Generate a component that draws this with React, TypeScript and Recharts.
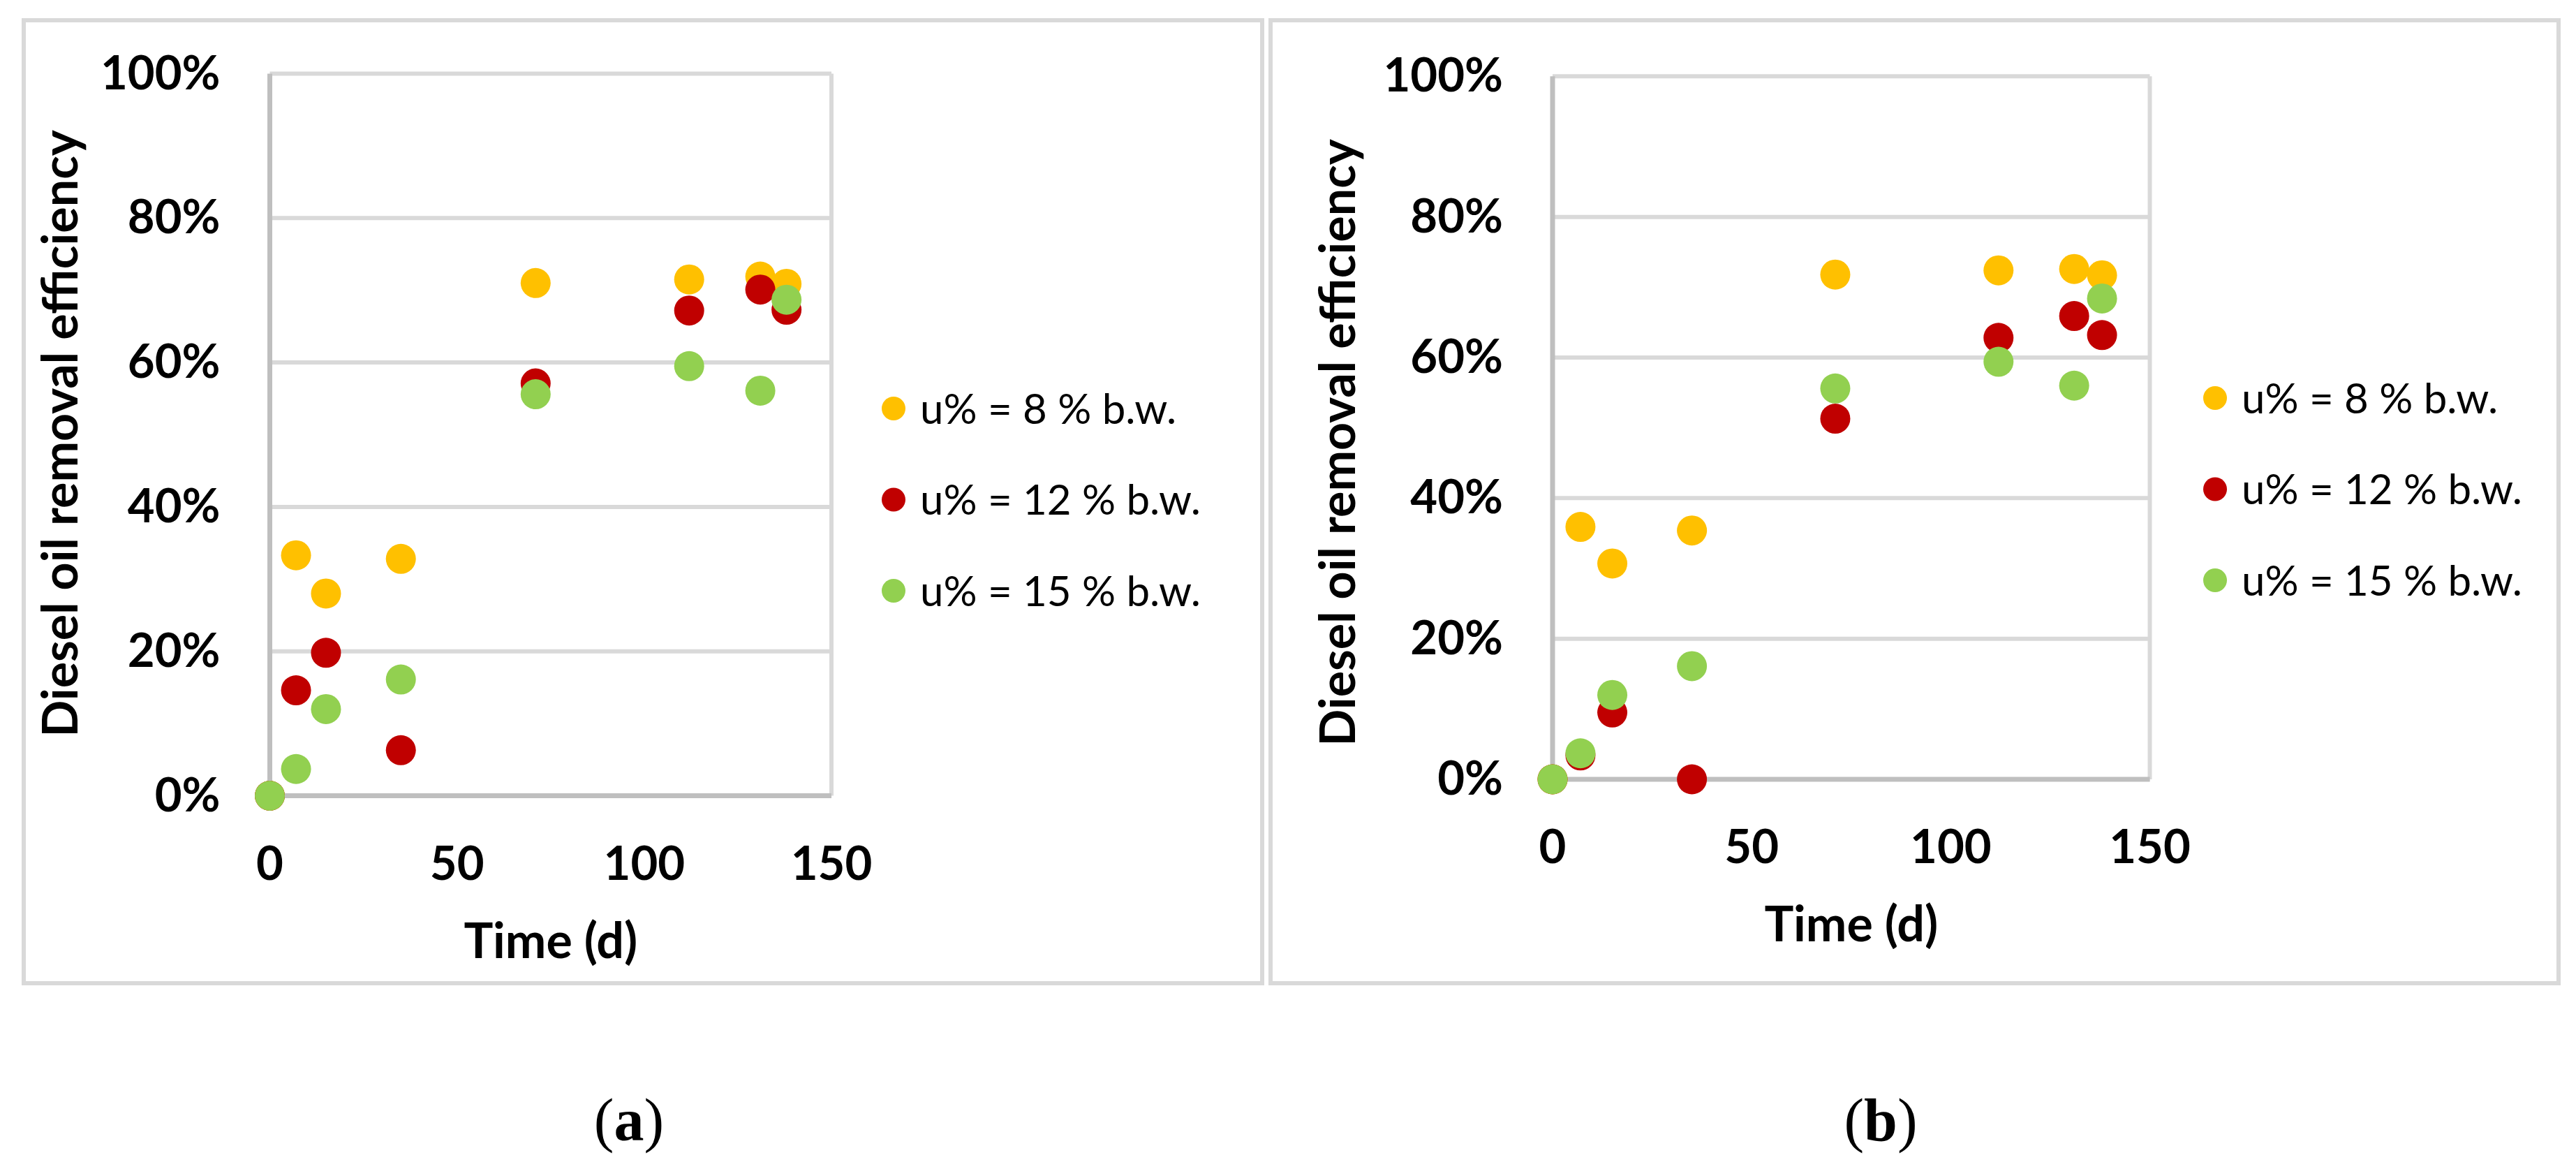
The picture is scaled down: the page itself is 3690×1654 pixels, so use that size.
import React from "react";
import {
  CartesianGrid,
  Label,
  Legend,
  ReferenceLine,
  Scatter,
  ScatterChart,
  XAxis,
  YAxis,
} from "recharts";

// sampling days (same for both panels)
const days = [0, 7, 15, 35, 71, 112, 131, 138];
const xTicks = [0, 50, 100, 150];
const yTicks = [0, 20, 40, 60, 80, 100];

const seriesNames = ["u% = 8 % b.w.", "u% = 12 % b.w.", "u% = 15 % b.w."];
const seriesColors = ["#FFC000", "#C00000", "#92D050"];

// panel (a) - removal efficiency, %
const a8 = [0, 33.3, 28.0, 32.8, 71.0, 71.5, 71.9, 70.9];
const a12 = [0, 14.6, 19.8, 6.3, 57.1, 67.2, 70.1, 67.3];
const a15 = [0, 3.7, 12.0, 16.1, 55.6, 59.5, 56.1, 68.7];

// panel (b)
const b8 = [0, 35.9, 30.7, 35.4, 71.8, 72.4, 72.6, 71.7];
const b12 = [0, 3.4, 9.5, 0, 51.3, 62.8, 65.9, 63.2];
const b15 = [0, 3.7, 12.0, 16.1, 55.6, 59.4, 56.0, 68.4];

const FONT = "Lato, 'Open Sans', sans-serif";
const TICK_FS = 67;
const TITLE_FS = 70;
const LEGEND_FS = 60;

const YTick = (props: any) => {
  const { x, y, payload } = props;
  return (
    <text
      x={x - 71}
      y={y + TICK_FS * 0.36 - 2}
      textAnchor="end"
      fontFamily={FONT}
      fontWeight={700}
      fontSize={TICK_FS}
      fill="#000"
    >
      {payload.value}%
    </text>
  );
};

const XTick = (props: any) => {
  const { x, y, payload } = props;
  return (
    <text
      x={x}
      y={y + 120}
      textAnchor="middle"
      fontFamily={FONT}
      fontWeight={700}
      fontSize={TICK_FS}
      fill="#000"
    >
      {payload.value}
    </text>
  );
};

const dot = (color: string) => (p: any) =>
  <circle cx={p.cx} cy={p.cy} r={21.5} fill={color} />;

type PanelProps = {
  values: number[][];
  left: number;
  width: number;
  margin: { top: number; right: number; bottom: number; left: number };
  legendX: number;
  legendY: number;
  yTitle: { x: number; y: number };
  xTitleDy: number;
};

function Panel({ values, left, width, margin, legendX, legendY, yTitle, xTitleDy }: PanelProps) {
  const rows = values.map((vals) => days.map((d, i) => ({ x: d, y: vals[i] })));
  const legendContent = () => (
    <svg width={560} height={400} style={{ display: "block" }}>
      {seriesNames.map((name, i) => (
        <g key={name}>
          <circle cx={20} cy={60 + i * 130.5} r={17} fill={seriesColors[i]} />
          <text
            x={58}
            y={60 + i * 130.5 + LEGEND_FS * 0.36}
            fontFamily={FONT}
            fontSize={LEGEND_FS}
            fill="#000"
          >
            {name}
          </text>
        </g>
      ))}
    </svg>
  );

  return (
    <div style={{ position: "absolute", left, top: 0 }}>
      <ScatterChart width={width} height={1654} margin={margin}>
        <CartesianGrid vertical={false} stroke="#d9d9d9" strokeWidth={6} />
        <ReferenceLine x={150} stroke="#d9d9d9" strokeWidth={6} />
        <XAxis
          type="number"
          dataKey="x"
          domain={[0, 150]}
          ticks={xTicks}
          interval={0}
          height={200}
          tickSize={0}
          tickMargin={0}
          tickLine={false}
          axisLine={{ stroke: "#bfbfbf", strokeWidth: 7 }}
          tick={<XTick />}
        >
          <Label
            content={(p: any) => {
              const vb = p.viewBox || {};
              return (
                <text
                  x={vb.x + vb.width / 2}
                  y={vb.y + xTitleDy}
                  textAnchor="middle"
                  fontFamily={FONT}
                  fontWeight={700}
                  fontSize={TITLE_FS}
                  fill="#000"
                >
                  Time (d)
                </text>
              );
            }}
          />
        </XAxis>
        <YAxis
          type="number"
          dataKey="y"
          domain={[0, 100]}
          ticks={yTicks}
          interval={0}
          width={300}
          tickSize={0}
          tickMargin={0}
          tickLine={false}
          axisLine={{ stroke: "#bfbfbf", strokeWidth: 7 }}
          tick={<YTick />}
        >
          <Label
            content={() => (
              <text
                x={yTitle.x}
                y={yTitle.y}
                transform={`rotate(-90 ${yTitle.x} ${yTitle.y})`}
                textAnchor="middle"
                fontFamily={FONT}
                fontWeight={700}
                fontSize={TITLE_FS}
                fill="#000"
              >
                Diesel oil removal efficiency
              </text>
            )}
          />
        </YAxis>
        <Legend
          layout="vertical"
          align="center"
          verticalAlign="middle"
          wrapperStyle={{ left: legendX - 20, top: legendY - 60, width: 560, height: 400 }}
          content={legendContent}
        />
        {rows.map((r, i) => (
          <Scatter
            key={seriesNames[i]}
            name={seriesNames[i]}
            data={r}
            fill={seriesColors[i]}
            shape={dot(seriesColors[i])}
            isAnimationActive={false}
          />
        ))}
      </ScatterChart>
    </div>
  );
}

const frame: React.CSSProperties = {
  position: "absolute",
  top: 26,
  height: 1385,
  border: "6px solid #d9d9d9",
  boxSizing: "border-box",
};

const caption: React.CSSProperties = {
  position: "absolute",
  top: 1554,
  width: 240,
  textAlign: "center",
  fontFamily: "'Liberation Serif', 'DejaVu Serif', serif",
  fontSize: 86,
  lineHeight: "100px",
  color: "#000",
};

export default function App() {
  return (
    <div
      style={{
        position: "absolute",
        left: 0,
        top: 0,
        width: 3690,
        height: 1654,
        background: "#fff",
        overflow: "hidden",
      }}
    >
      <div style={{ ...frame, left: 31, width: 1780 }} />
      <div style={{ ...frame, left: 1817, width: 1851 }} />
      <Panel
        values={[a8, a12, a15]}
        left={0}
        width={1811}
        margin={{ top: 105.5, right: 620, bottom: 314.5, left: 86.5 }}
        legendX={1280}
        legendY={585}
        yTitle={{ x: 111, y: 621 }}
        xTitleDy={232}
      />
      <Panel
        values={[b8, b12, b15]}
        left={1811}
        width={1879}
        margin={{ top: 109.3, right: 610.5, bottom: 338, left: 113 }}
        legendX={1362}
        legendY={570}
        yTitle={{ x: 130, y: 634 }}
        xTitleDy={232}
      />
      <div style={{ ...caption, left: 781 }}>(<b>a</b>)</div>
      <div style={{ ...caption, left: 2574 }}>(<b>b</b>)</div>
    </div>
  );
}
